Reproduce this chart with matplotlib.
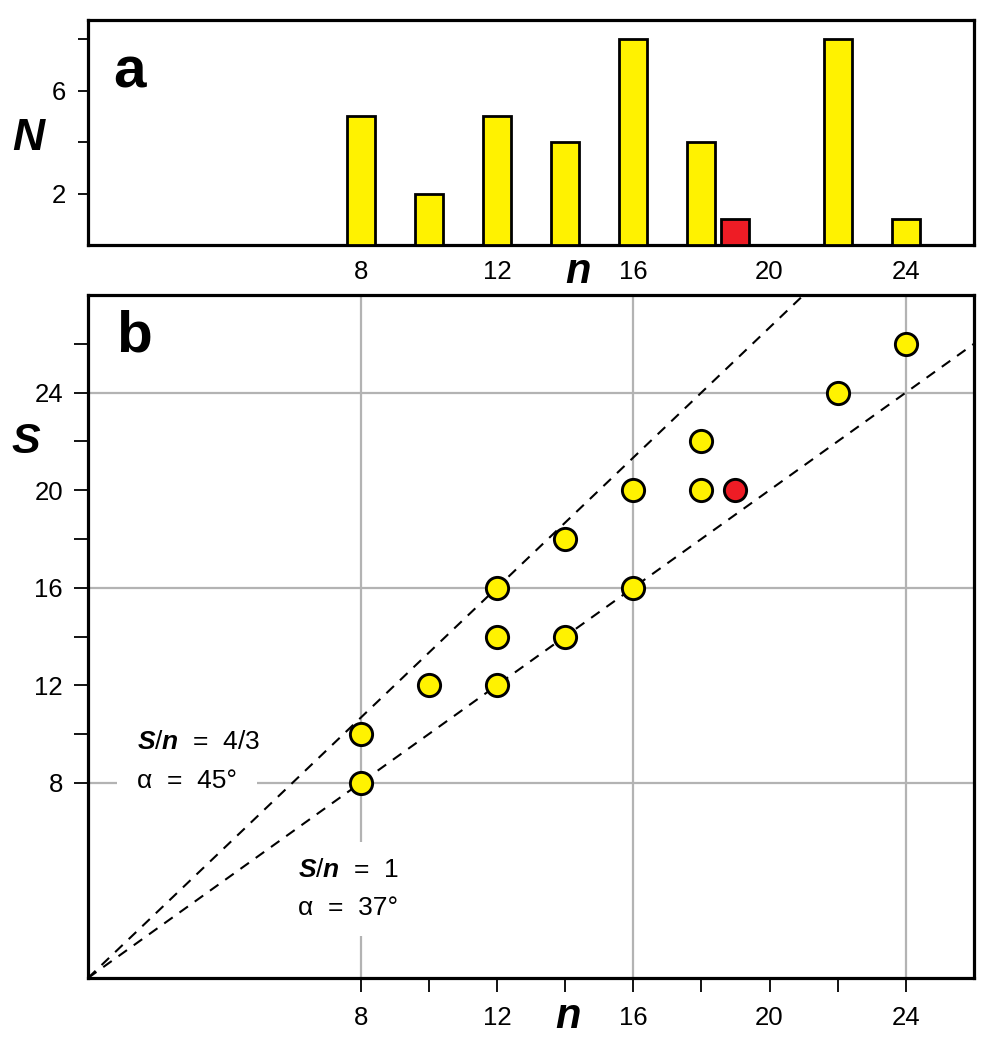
import matplotlib
matplotlib.use("Agg")
import matplotlib.pyplot as plt
import numpy as np

plt.rcParams['font.family'] = ['Liberation Sans', 'DejaVu Sans']
plt.rcParams['mathtext.fontset'] = 'custom'
plt.rcParams['mathtext.rm'] = 'Liberation Sans'
plt.rcParams['mathtext.it'] = 'Liberation Sans:italic'
plt.rcParams['mathtext.bf'] = 'Liberation Sans:bold'
plt.rcParams['mathtext.bfit'] = 'Liberation Sans:bold:italic'

# ---- data ----
bar_n = [8, 10, 12, 14, 16, 18, 22, 24]
bar_N = [5, 2, 5, 4, 8, 4, 8, 1]
red_bar_n = [19]
red_bar_N = [1]

pts_n = [8, 8, 10, 12, 12, 12, 14, 14, 16, 16, 18, 18, 22, 24]
pts_S = [8, 10, 12, 12, 14, 16, 14, 18, 16, 20, 20, 22, 24, 26]
red_n = [19]
red_S = [20]

ratios = [4/3, 1.0]
ratio_line1 = [r'$\mathbfit{S}$/$\mathbfit{n}$  =  4/3', r'$\mathbfit{S}$/$\mathbfit{n}$  =  1']
ratio_line2 = ['α  =  45°', 'α  =  37°']

xticks_major = [8, 12, 16, 20, 24]
yticks_a = [2, 4, 6, 8]
yticklabels_a = ['2', '', '6', '']
xticks_b = [8, 10, 12, 14, 16, 18, 20, 22, 24]
xticklabels_b = ['8', '', '12', '', '16', '', '20', '', '24']
yticks_b = [8, 10, 12, 14, 16, 18, 20, 22, 24, 26]
yticklabels_b = ['8', '', '12', '', '16', '', '20', '', '24', '']
grid_vals = [8, 16, 24]

YELLOW = '#FFF200'
RED = '#EE1C25'
FS = 18.5
AFS = 19

W, H = 987, 1050
fig = plt.figure(figsize=(W/100, H/100), dpi=100)

L, R = 88/W, 974/W
axa = fig.add_axes([L, 1-245/H, R-L, (245-20)/H])
axb = fig.add_axes([L, 1-978/H, R-L, (978-295)/H])

for ax in (axa, axb):
    for s in ax.spines.values():
        s.set_linewidth(2.3)
    ax.set_xlim(0, 26)

# ---- panel a ----
axa.bar(bar_n, bar_N, width=0.82, color=YELLOW, edgecolor='black', linewidth=2.0, zorder=3)
axa.bar(red_bar_n, red_bar_N, width=0.82, color=RED, edgecolor='black', linewidth=2.0, zorder=3)
axa.set_ylim(0, 8.75)
axa.set_yticks(yticks_a)
axa.set_yticklabels(yticklabels_a, fontsize=FS)
axa.set_xticks(xticks_major)
axa.set_xticklabels([str(v) for v in xticks_major], fontsize=FS)
axa.tick_params(axis='x', length=0, pad=11)
axa.tick_params(axis='y', length=7, width=1.3, pad=9)
axa.text(0.029, 0.702, 'a', transform=axa.transAxes, fontsize=42, fontweight='bold',
         ha='left', va='baseline')
fig.text(28/W, 1-138/H, 'N', fontsize=32, fontweight='bold', style='italic',
         ha='center', va='center')
fig.text(578/W, 1-272/H, 'n', fontsize=30, fontweight='bold', style='italic',
         ha='center', va='center')

# ---- panel b ----
axb.set_ylim(0, 28)
for g in grid_vals:
    axb.axvline(g, color='#b3b3b3', lw=1.6, zorder=0)
    axb.axhline(g, color='#b3b3b3', lw=1.6, zorder=0)

xx = np.array([0, 26])
for r in ratios:
    axb.plot(xx, r*xx, ls=(0, (5, 4)), color='black', lw=1.5, zorder=2)

axb.scatter(pts_n, pts_S, s=16**2, color=YELLOW, edgecolor='black', linewidth=2.1, zorder=4)
axb.scatter(red_n, red_S, s=16**2, color=RED, edgecolor='black', linewidth=2.1, zorder=4)

axb.set_xticks(xticks_b)
axb.set_xticklabels(xticklabels_b, fontsize=FS)
axb.set_yticks(yticks_b)
axb.set_yticklabels(yticklabels_b, fontsize=FS)
axb.tick_params(axis='x', length=10, width=1.3, pad=10)
axb.tick_params(axis='y', length=10, width=1.3, pad=8)

axb.text(0.032, 0.9166, 'b', transform=axb.transAxes, fontsize=42, fontweight='bold',
         ha='left', va='baseline')

box = dict(boxstyle='square,pad=0.75', fc='white', ec='none')
# first annotation block
fig.text(137/W, 1-749/H, ratio_line1[0], fontsize=AFS, ha='left', va='baseline', zorder=3)
fig.text(137/W, 1-788/H, ratio_line2[0], fontsize=AFS, ha='left', va='baseline', zorder=3,
         bbox=box)
# second annotation block
fig.text(298/W, 1-877/H, ratio_line1[1], fontsize=AFS, ha='left', va='baseline', zorder=3,
         bbox=dict(boxstyle='square,pad=0.6', fc='white', ec='none'))
fig.text(298/W, 1-915/H, ratio_line2[1], fontsize=AFS, ha='left', va='baseline', zorder=3,
         bbox=dict(boxstyle='square,pad=0.6', fc='white', ec='none'))

fig.text(26/W, 1-442/H, 'S', fontsize=31, fontweight='bold', style='italic',
         ha='center', va='center')
fig.text(568/W, 1-1017/H, 'n', fontsize=30, fontweight='bold', style='italic',
         ha='center', va='center')

fig.savefig('out.png', dpi=100)
